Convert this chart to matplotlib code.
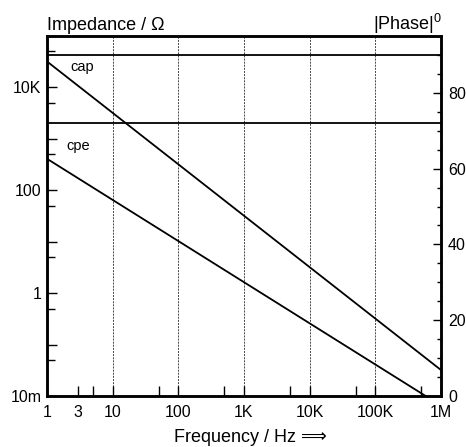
import numpy as np
import matplotlib
matplotlib.use("Agg")
import matplotlib.pyplot as plt
from matplotlib.ticker import FixedLocator, NullFormatter

plt.rcParams['font.family'] = ['Liberation Sans', 'DejaVu Sans']
plt.rcParams['mathtext.fontset'] = 'custom'
plt.rcParams['mathtext.rm'] = 'Liberation Sans'
plt.rcParams['mathtext.it'] = 'Liberation Sans:italic'

# impedance spectra (log-log straight lines) and constant phases
freq = [1, 1e6]
z_cap = [3.2e4, 3.2e-2]
z_cpe = [410, 6.5e-3]
phase_cap = [90, 90]
phase_cpe = [72, 72]

x_ticks = [1, 3, 10, 100, 1e3, 1e4, 1e5, 1e6]
x_labels = ['1', '3', '10', '100', '1K', '10K', '100K', '1M']
x_minor = [5, 50, 500, 5e3, 5e4, 5e5]
y_ticks = [1e-2, 1e-1, 1, 10, 100, 1e3, 1e4, 1e5]
y_labels = ['10m', '', '1', '', '100', '', '10K', '']
y_minor = [5e-2, 5e-1, 5, 50, 500, 5e3, 5e4]
grid_f = [10, 100, 1e3, 1e4, 1e5]

fig = plt.figure(figsize=(4.66, 4.47), dpi=100)
ax = fig.add_axes([47/466, 51/447, 394/466, 360/447])

ax.set_xscale('log')
ax.set_yscale('log')
ax.set_xlim(1, 1e6)
ax.set_ylim(1e-2, 1e5)

for f in grid_f:
    ax.axvline(f, color='#444444', lw=0.7, ls=(0, (2, 1.2)), zorder=1)

ax.plot(freq, z_cap, color='black', lw=1.3, zorder=3)
ax.plot(freq, z_cpe, color='black', lw=1.3, zorder=3)

ax.text(2.3, 2.5e4, 'cap', fontsize=10.5, va='center', ha='left')
ax.text(2.0, 730, 'cpe', fontsize=10.5, va='center', ha='left')

ax.xaxis.set_major_locator(FixedLocator(x_ticks))
ax.set_xticklabels(x_labels)
ax.xaxis.set_minor_locator(FixedLocator(x_minor))
ax.xaxis.set_minor_formatter(NullFormatter())
ax.yaxis.set_major_locator(FixedLocator(y_ticks))
ax.set_yticklabels(y_labels)
ax.yaxis.set_minor_locator(FixedLocator(y_minor))
ax.yaxis.set_minor_formatter(NullFormatter())

ax.tick_params(axis='x', which='both', direction='in', length=7, width=1,
               labelsize=11.5, pad=6.5, top=False)
ax.tick_params(axis='y', which='major', direction='in', length=7.5, width=1,
               labelsize=11.5, pad=4)
ax.tick_params(axis='y', which='minor', direction='in', length=6, width=1)

ax2 = ax.twinx()
ax2.set_ylim(0, 95)
ax2.plot(freq, phase_cap, color='black', lw=1.3)
ax2.plot(freq, phase_cpe, color='black', lw=1.3)
ax2.yaxis.set_major_locator(FixedLocator([0, 20, 40, 60, 80]))
ax2.yaxis.set_minor_locator(FixedLocator(np.arange(5, 95, 5)))
ax2.tick_params(axis='y', which='major', direction='in', length=6, width=1,
                labelsize=11.5, pad=5)
ax2.tick_params(axis='y', which='minor', direction='in', length=3, width=1)

for a in (ax, ax2):
    for s in a.spines.values():
        s.set_linewidth(1.8)

fig.text(47/466, 1 - 30/447, 'Impedance / Ω', fontsize=13, ha='left', va='baseline')
fig.text(442/466, 1 - 30/447, '|Phase|$^{0}$', fontsize=13, ha='right', va='baseline')
fig.text(250/466, 1 - 442/447, 'Frequency / Hz ⟹', fontsize=13, ha='center', va='baseline')

fig.savefig('out.png', dpi=100)
